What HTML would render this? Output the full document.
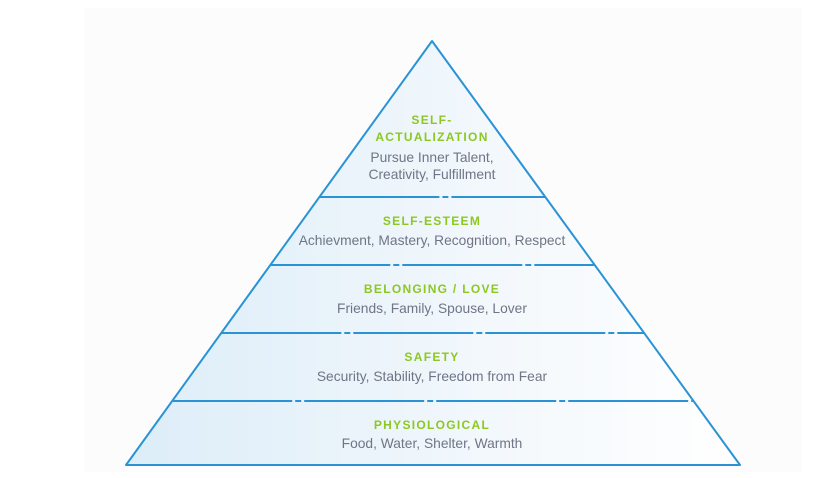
<!DOCTYPE html>
<html><head><meta charset="utf-8"><style>
html,body{margin:0;padding:0;background:#fff;}
svg{display:block;}
.t{font-family:"Liberation Sans",sans-serif;font-size:12px;font-weight:bold;fill:#8cc821;letter-spacing:1.3px;text-anchor:middle;}
.s{font-family:"Liberation Sans",sans-serif;font-size:13.8px;fill:#6f7585;text-anchor:middle;}
</style></head><body>
<svg width="813" height="478" viewBox="0 0 813 478" xmlns="http://www.w3.org/2000/svg">
<defs>
<linearGradient id="g" x1="0" y1="0" x2="1" y2="0">
<stop offset="0" stop-color="#dcedf8"/>
<stop offset="0.6" stop-color="#f3f8fc"/>
<stop offset="1" stop-color="#ffffff"/>
</linearGradient>
</defs>
<rect x="84" y="8" width="718" height="464" fill="#fcfcfc"/>
<polygon points="432,41 126,465 740,465" fill="url(#g)" stroke="#2a93d5" stroke-width="2" stroke-linejoin="round"/>
<g stroke="#2a93d5" stroke-width="2" stroke-dasharray="120,3,6,3">
<line x1="319.4" y1="197" x2="545.3" y2="197"/>
<line x1="270.3" y1="265" x2="594.7" y2="265"/>
<line x1="221.3" y1="333" x2="644.1" y2="333"/>
<line x1="172.2" y1="401" x2="693.5" y2="401"/>
</g>
<text class="t" x="432" y="124">SELF-</text>
<text class="t" x="432" y="141">ACTUALIZATION</text>
<text class="s" x="432" y="162">Pursue Inner Talent,</text>
<text class="s" x="432" y="179">Creativity, Fulfillment</text>
<text class="t" x="432" y="225">SELF-ESTEEM</text>
<text class="s" x="432" y="245">Achievment, Mastery, Recognition, Respect</text>
<text class="t" x="432" y="293">BELONGING / LOVE</text>
<text class="s" x="432" y="313">Friends, Family, Spouse, Lover</text>
<text class="t" x="432" y="361">SAFETY</text>
<text class="s" x="432" y="381">Security, Stability, Freedom from Fear</text>
<text class="t" x="432" y="429">PHYSIOLOGICAL</text>
<text class="s" x="432" y="448">Food, Water, Shelter, Warmth</text>
</svg>
</body></html>
